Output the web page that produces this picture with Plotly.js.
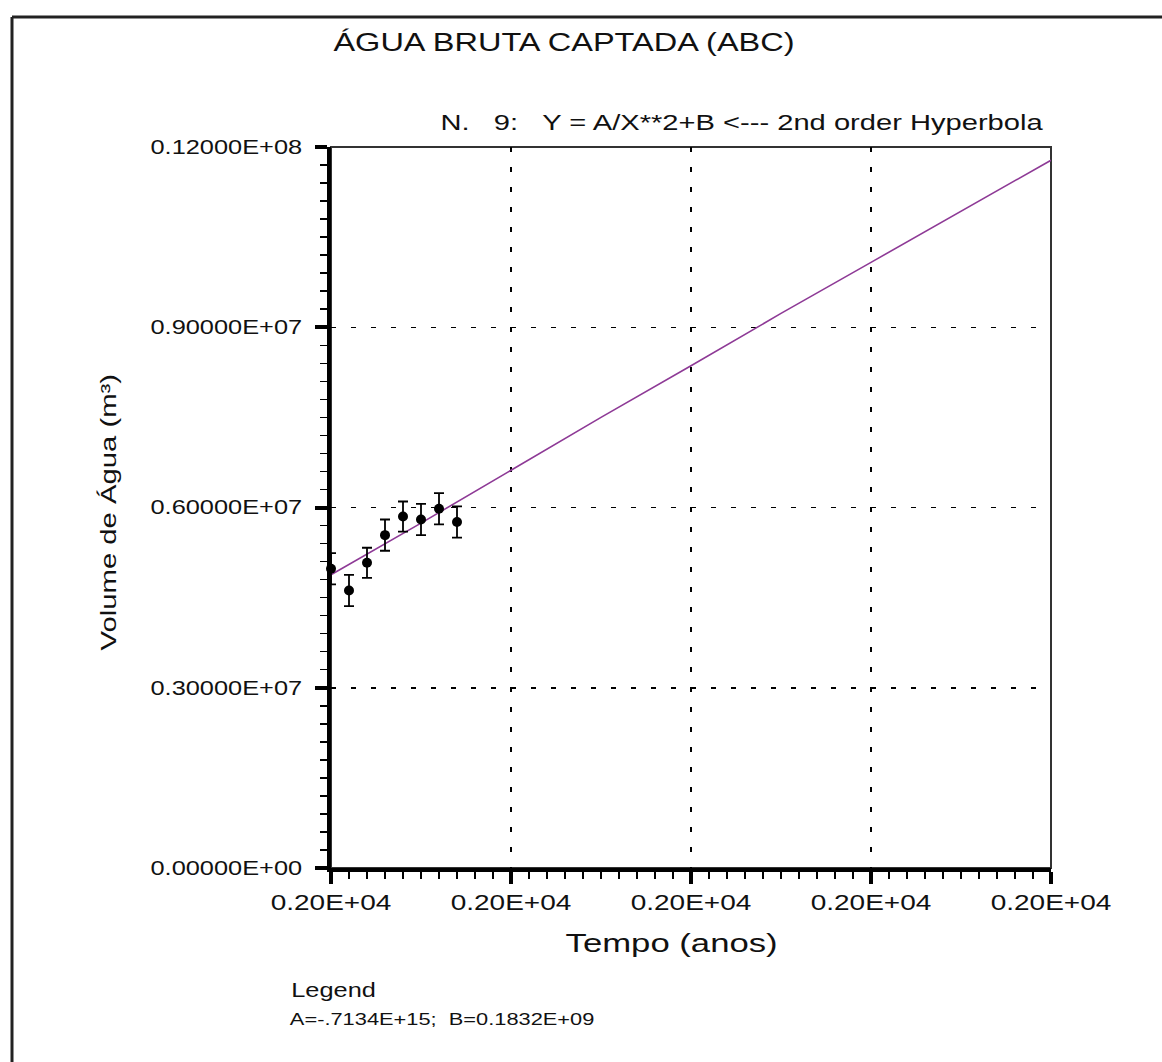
<!DOCTYPE html>
<html>
<head>
<meta charset="utf-8">
<script src="https://cdn.plot.ly/plotly-3.0.1.min.js"></script>
<style>
html,body{margin:0;padding:0;background:#fff;}
#chart{width:1162px;height:1062px;}
</style>
</head>
<body>
<div id="chart"></div>
<script>
// ---- data ----
var years = [2000, 2001, 2002, 2003, 2004, 2005, 2006, 2007];
var volume = [4.98e6, 4.62e6, 5.08e6, 5.54e6, 5.85e6, 5.80e6, 5.98e6, 5.76e6];
var volumeError = [0.26e6, 0.26e6, 0.25e6, 0.26e6, 0.25e6, 0.26e6, 0.26e6, 0.26e6];
var fitYears = [2000, 2005, 2010, 2015, 2020, 2025, 2030, 2035, 2040];
var fitValues = [4.88e6, 5.74e6, 6.62e6, 7.50e6, 8.36e6, 9.23e6, 10.08e6, 10.93e6, 11.78e6];
var xTickVals = [2000, 2010, 2020, 2030, 2040];
var xTickText = ['0.20E+04', '0.20E+04', '0.20E+04', '0.20E+04', '0.20E+04'];
var yTickVals = [0, 3e6, 6e6, 9e6, 12e6];
var yTickText = ['0.00000E+00', '0.30000E+07', '0.60000E+07', '0.90000E+07', '0.12000E+08'];
var titleText = '\u00c1GUA BRUTA CAPTADA (ABC)';
var subtitleText = 'N.\u00a0\u00a0\u00a09:\u00a0\u00a0\u00a0Y = A/X**2+B <--- 2nd order Hyperbola';
var xTitle = 'Tempo (anos)';
var yTitle = 'Volume de \u00c1gua (m\u00b3)';
var legendTitle = 'Legend';
var legendText = 'A=-.7134E+15;\u00a0\u00a0B=0.1832E+09';

var FONT = 'Arial, "Liberation Sans", sans-serif';
var STRETCH = 1.3;
var TXT = '#111';

// paper-coordinate helpers for the 720x721 plot box at (331,147)
function px(x) { return (x - 331) / 720; }
function py(y) { return (868 - y) / 721; }

var traces = [
  {
    x: fitYears, y: fitValues, type: 'scatter', mode: 'lines',
    line: {color: '#8e3a96', width: 1.6}, hoverinfo: 'skip', showlegend: false
  },
  {
    x: years, y: volume, type: 'scatter', mode: 'markers',
    marker: {color: '#000', size: 10},
    error_y: {type: 'data', array: volumeError, visible: true, color: '#000', thickness: 1.8, width: 5},
    cliponaxis: false, showlegend: false
  }
];

var axisCommon = {
  showline: true, linecolor: '#000', linewidth: 4,
  ticks: 'outside', ticklen: 12, tickwidth: 4, tickcolor: '#000',
  showgrid: true, gridcolor: '#000', gridwidth: 1.5, griddash: '5px,15px',
  zeroline: false
};

var layout = {
  width: 1162, height: 1062,
  margin: {l: 331, r: 111, t: 147, b: 194},
  paper_bgcolor: '#fff', plot_bgcolor: '#fff',
  showlegend: false,
  title: {text: titleText, font: {family: FONT, size: 25, color: TXT},
          xref: 'container', x: 564/1162, xanchor: 'center', yref: 'container', y: 1 - 42/1062, yanchor: 'middle'},
  xaxis: Object.assign({}, axisCommon, {
    range: [2000, 2040], tickmode: 'array', tickvals: xTickVals, ticktext: xTickText,
    tickfont: {family: FONT, size: 21.5, color: TXT},
    minor: {dtick: 1, ticks: 'outside', ticklen: 7, tickwidth: 1.5, tickcolor: '#000', showgrid: false}
  }),
  yaxis: Object.assign({}, axisCommon, {
    range: [0, 12e6], tickmode: 'array', tickvals: yTickVals, ticktext: yTickText,
    tickfont: {family: FONT, size: 19.5, color: TXT}, ticklabelstandoff: 9,
    minor: {dtick: 3e5, ticks: 'outside', ticklen: 7, tickwidth: 1.5, tickcolor: '#000', showgrid: false}
  }),
  shapes: [
    {type: 'rect', xref: 'paper', yref: 'paper', x0: 0, x1: 1, y0: 0, y1: 1,
     line: {color: '#333', width: 2}, layer: 'below'},
    {type: 'line', xref: 'paper', yref: 'paper', x0: px(12), x1: px(12), y0: py(17), y1: py(1080),
     line: {color: '#222', width: 3}},
    {type: 'line', xref: 'paper', yref: 'paper', x0: px(12), x1: px(1180), y0: py(17), y1: py(17),
     line: {color: '#222', width: 3}}
  ],
  annotations: [
    {text: subtitleText, xref: 'paper', yref: 'paper', x: px(741.5), y: py(122),
     xanchor: 'center', yanchor: 'middle', showarrow: false, font: {family: FONT, size: 22.4, color: TXT}},
    {text: xTitle, xref: 'paper', yref: 'paper', x: px(671.5), y: py(943),
     xanchor: 'center', yanchor: 'middle', showarrow: false, font: {family: FONT, size: 26.7, color: TXT}},
    {text: yTitle, xref: 'paper', yref: 'paper', x: px(108), y: py(512.5), textangle: -90,
     xanchor: 'center', yanchor: 'middle', showarrow: false, font: {family: FONT, size: 22.5, color: TXT}},
    {text: legendTitle, xref: 'paper', yref: 'paper', x: px(333), y: py(990),
     xanchor: 'center', yanchor: 'middle', showarrow: false, font: {family: FONT, size: 19.5, color: TXT}},
    {text: legendText, xref: 'paper', yref: 'paper', x: px(441.5), y: py(1020),
     xanchor: 'center', yanchor: 'middle', showarrow: false, font: {family: FONT, size: 16.8, color: TXT}}
  ]
};

// the reference's lettering is horizontally widened; widen glyphs while keeping each label's anchor point
function stretchText(gd, f) {
  gd.querySelectorAll('svg text').forEach(function (t) {
    var L = t.getComputedTextLength();
    if (!(L > 0)) return;
    var b0 = t.getBBox();
    t.setAttribute('textLength', (L * f).toFixed(1));
    t.setAttribute('lengthAdjust', 'spacingAndGlyphs');
    var b1 = t.getBBox();
    var keepRight = !!t.closest('.ytick');
    var target = keepRight ? (b0.x + b0.width) : (b0.x + b0.width / 2);
    var now = keepRight ? (b1.x + b1.width) : (b1.x + b1.width / 2);
    var d = target - now;
    if (Math.abs(d) > 0.05) {
      var x = parseFloat(t.getAttribute('x') || '0');
      t.setAttribute('x', (x + d).toFixed(2));
      t.querySelectorAll('tspan[x]').forEach(function (s) {
        s.setAttribute('x', (parseFloat(s.getAttribute('x')) + d).toFixed(2));
      });
    }
  });
}

Plotly.newPlot('chart', traces, layout, {staticPlot: true, displayModeBar: false}).then(function (gd) {
  stretchText(gd, STRETCH);
});
</script>
</body>
</html>
